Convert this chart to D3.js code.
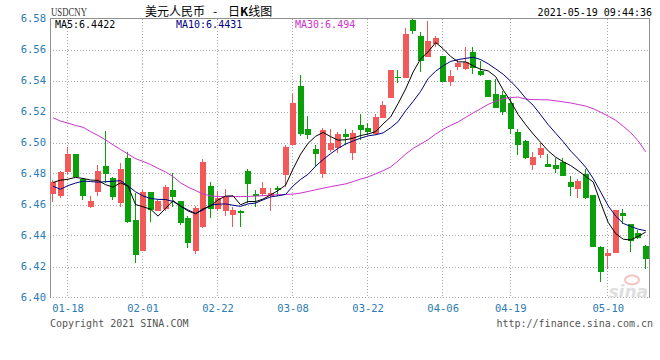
<!DOCTYPE html>
<html>
<head>
<meta charset="utf-8">
<script src="https://cdn.jsdelivr.net/npm/d3@7"></script>
<style>
body{margin:0;background:#fff}
svg{display:block}
text{font-family:"DejaVu Sans Mono",monospace}
</style>
</head>
<body>
<svg width="660" height="360"></svg>
<script>

// daily K data (USD/CNY, 80 sessions)
var opens = [6.4665,6.4658,6.4809,6.4923,6.4766,6.4585,6.4682,6.4847,6.4768,6.4611,
  6.4897,6.4497,6.4299,6.468,6.4557,6.457,6.4695,6.462,6.451,6.430,
  6.4458,6.472,6.457,6.4555,6.4533,6.4559,6.4819,6.4669,6.4669,6.4656,
  6.4705,6.4791,6.4987,6.5363,6.5086,6.4961,6.4794,6.4951,6.4966,6.5052,
  6.4935,6.5112,6.5095,6.5054,6.5161,6.529,6.5424,6.5419,6.5789,6.5686,
  6.5553,6.5634,6.5557,6.5391,6.5484,6.5477,6.5581,6.546,6.5402,6.531,
  6.5305,6.5258,6.5069,6.5011,6.4854,6.4918,6.486,6.4854,6.4875,6.4742,
  6.4703,6.4796,6.466,6.4329,6.4269,6.4286,6.4544,6.4473,6.4413,6.4333]
var highs = [6.4761,6.4815,6.4972,6.4925,6.4768,6.4654,6.4852,6.5077,6.4778,6.4869,
  6.494,6.4671,6.4692,6.468,6.4632,6.4725,6.4802,6.462,6.4525,6.459,
  6.4892,6.4742,6.4684,6.4699,6.4587,6.4566,6.4828,6.4695,6.4746,6.4705,
  6.472,6.4985,6.531,6.5434,6.5172,6.4986,6.5095,6.509,6.5069,6.509,
  6.508,6.5181,6.5123,6.5181,6.5267,6.5467,6.5467,6.574,6.5796,6.5714,
  6.5783,6.5688,6.5557,6.5467,6.5531,6.5617,6.5613,6.5525,6.5402,6.5409,
  6.5331,6.5284,6.5086,6.5015,6.494,6.4994,6.4925,6.4903,6.4897,6.4781,
  6.4763,6.4832,6.466,6.4333,6.4312,6.4563,6.457,6.4473,6.4434,6.434]
var lows = [6.4615,6.4642,6.4794,6.4775,6.4632,6.4576,6.4654,6.474,6.4628,6.4585,
  6.4482,6.4224,6.4299,6.4486,6.4557,6.456,6.4587,6.4468,6.432,6.428,
  6.4447,6.4512,6.4555,6.4529,6.4454,6.4458,6.4609,6.4587,6.4652,6.4555,
  6.4656,6.4716,6.4983,6.5043,6.5021,6.4843,6.4768,6.494,6.4935,6.4987,
  6.4886,6.5015,6.5047,6.5047,6.5155,6.529,6.5381,6.5413,6.5703,6.5456,
  6.555,6.5617,6.5391,6.5363,6.5467,6.5467,6.5445,6.543,6.5295,6.522,
  6.5176,6.5058,6.4918,6.4892,6.4824,6.4903,6.4839,6.4802,6.4781,6.4656,
  6.4645,6.4634,6.4327,6.4097,6.4187,6.4286,6.4473,6.4295,6.4376,6.4187]
var closes = [6.4746,6.4809,6.4929,6.4778,6.4658,6.4624,6.4819,6.4794,6.4649,6.483,
  6.4488,6.4273,6.468,6.4563,6.4622,6.4715,6.4647,6.448,6.435,6.458,
  6.4873,6.457,6.4641,6.4652,6.4566,6.4544,6.4731,6.4652,6.4705,6.4673,
  6.4695,6.497,6.5258,6.5058,6.5047,6.4925,6.508,6.4994,6.5058,6.5037,
  6.5064,6.508,6.5069,6.5166,6.5245,6.5467,6.5413,6.5703,6.572,6.5525,
  6.5654,6.5671,6.5391,6.5428,6.551,6.552,6.5482,6.5434,6.5295,6.5224,
  6.5198,6.509,6.4983,6.4897,6.4908,6.4963,6.4845,6.4828,6.4785,6.4716,
  6.4753,6.4639,6.4327,6.4166,6.4286,6.4563,6.4527,6.4366,6.4387,6.4247]

// moving averages as drawn
var ma5 = [6.4742,6.4757,6.4763,6.4775,6.4768,6.4758,6.4755,6.4728,6.4712,6.474,
  6.4718,6.46,6.4585,6.457,6.4525,6.4575,6.4625,6.459,6.4558,6.454,
  6.4572,6.459,6.463,6.4654,6.4656,6.4598,6.4619,6.4619,6.4635,6.4662,
  6.469,6.4725,6.483,6.4925,6.4995,6.504,6.5065,6.5038,6.5015,6.5018,
  6.5028,6.5045,6.5055,6.507,6.512,6.5165,6.5252,6.5345,6.5455,6.554,
  6.5585,6.5645,6.5605,6.5555,6.552,6.552,6.5495,6.5472,6.5462,6.5425,
  6.5338,6.5265,6.518,6.5115,6.5055,6.5,6.4946,6.4905,6.4876,6.4851,
  6.4817,6.4782,6.4745,6.461,6.4484,6.4412,6.4376,6.4371,6.4395,6.4422]
var ma10 = [6.4718,6.4698,6.4722,6.4738,6.4751,6.4748,6.4744,6.4747,6.475,6.4754,
  6.472,6.4682,6.4655,6.4639,6.4633,6.4632,6.462,6.459,6.4565,6.4542,
  6.4565,6.4596,6.4602,6.4604,6.4595,6.4588,6.4604,6.4609,6.463,6.4649,
  6.4656,6.4665,6.472,6.4762,6.4795,6.4847,6.489,6.4928,6.4962,6.499,
  6.501,6.5028,6.5043,6.505,6.5062,6.5095,6.5135,6.5205,6.5265,6.533,
  6.5413,6.546,6.5495,6.5523,6.5535,6.5543,6.555,6.5535,6.5508,6.5475,
  6.544,6.5395,6.5345,6.5285,6.524,6.5178,6.5115,6.506,6.5005,6.4945,
  6.4895,6.484,6.4768,6.468,6.4591,6.4525,6.4478,6.4458,6.4441,6.4431]
var ma30 = [6.516,6.5138,6.5125,6.511,6.5098,6.507,6.5045,6.5017,6.4985,6.4955,
  6.4925,6.4896,6.4878,6.4858,6.4833,6.481,6.478,6.474,6.4712,6.469,
  6.4668,6.4655,6.4652,6.4651,6.4651,6.4651,6.4652,6.4654,6.4657,6.466,
  6.4663,6.4665,6.4667,6.4674,6.4684,6.4695,6.4705,6.4715,6.4724,6.4733,
  6.4748,6.4764,6.4778,6.4798,6.4818,6.4842,6.4882,6.4925,6.4962,6.499,
  6.5019,6.5054,6.5086,6.511,6.5133,6.5162,6.5191,6.5218,6.5246,6.5266,
  6.5283,6.529,6.5293,6.528,6.5277,6.5276,6.5275,6.5269,6.5262,6.5255,
  6.5245,6.5235,6.5218,6.5195,6.517,6.5143,6.5105,6.5063,6.501,6.494]

var yTicks = [6.40,6.42,6.44,6.46,6.48,6.50,6.52,6.54,6.56,6.58]
var dateLabels = ["01-18","02-01","02-22","03-08","03-22","04-06","04-19","05-10"]
var dateIdx = [2,12,22,32,42,52,61,74]

var svg = d3.select("svg"),
    pL = 50, pR = 649, pT = 18.5, pB = 297.5,
    upColor = "#f25a5a", downColor = "#0aa00a", labColor = "#2b7bb4"

var x = d3.scaleBand().domain(d3.range(closes.length)).range([49.25, 649.5]),
    y = d3.scaleLinear().domain([6.40, 6.58]).range([pB, pT])

function cx(i){ return Math.round(x(i) + x.bandwidth() / 2) }

svg.append("defs").append("clipPath").attr("id", "plot")
  .append("rect").attr("x", pL).attr("y", pT).attr("width", pR - pL).attr("height", pB - pT)

// dotted grid
var grid = svg.append("g").attr("stroke", "#a8a8a8").attr("stroke-dasharray", "1,2").attr("shape-rendering", "crispEdges")
grid.selectAll(".h").data(yTicks.slice(1, -1)).enter().append("line")
  .attr("x1", pL).attr("x2", pR)
  .attr("y1", function(d){ return Math.round(y(d)) + 0.5 })
  .attr("y2", function(d){ return Math.round(y(d)) + 0.5 })
grid.selectAll(".v").data(dateIdx).enter().append("line")
  .attr("y1", pT).attr("y2", pB)
  .attr("x1", function(d){ return cx(d) - 0.5 })
  .attr("x2", function(d){ return cx(d) - 0.5 })
grid.append("line").attr("x1", pL).attr("x2", pR).attr("y1", pB).attr("y2", pB)

// frame
svg.append("path").attr("stroke", "#909090").attr("shape-rendering", "crispEdges").attr("fill", "none")
  .attr("d", "M" + (pL + 0.5) + "," + pB + "V" + pT + "H" + (pR + 0.5) + "V" + pB)

// watermark
var wm = svg.append("g").attr("clip-path", "url(#plot)")
wm.append("ellipse").attr("cx", 632).attr("cy", 280).attr("rx", 7).attr("ry", 4.5)
  .attr("fill", "none").attr("stroke", "#f4c4c4").attr("stroke-width", 2)
wm.append("text").attr("x", 648).attr("y", 298).attr("text-anchor", "end")
  .style("font-family", "DejaVu Sans").style("font-style", "italic").style("font-weight", "bold")
  .style("font-size", "17px").attr("fill", "#dedede").text("sina")

// candles
var candle = svg.append("g").attr("shape-rendering", "crispEdges")
  .selectAll("g").data(closes).enter().append("g")
  .attr("fill", function(d, i){ return d >= opens[i] ? upColor : downColor })
  .attr("stroke", function(d, i){ return d >= opens[i] ? upColor : downColor })

candle.append("line")
  .attr("x1", function(d, i){ return cx(i) - 0.5 })
  .attr("x2", function(d, i){ return cx(i) - 0.5 })
  .attr("y1", function(d, i){ return y(highs[i]) })
  .attr("y2", function(d, i){ return y(lows[i]) })

candle.append("rect")
  .attr("stroke", "none")
  .attr("x", function(d, i){ return cx(i) - 3 })
  .attr("width", 6)
  .attr("y", function(d, i){ return y(Math.max(d, opens[i])) })
  .attr("height", function(d, i){ return Math.max(1, Math.abs(y(d) - y(opens[i]))) })

// MA lines
var maLine = d3.line().x(function(d, i){ return x(i) + x.bandwidth() / 2 }).y(function(d){ return y(d) })
var mas = [[ma30, "#cc33cc", "MA30", 295], [ma10, "#000080", "MA10", 176], [ma5, "#000000", "MA5", 55]]
mas.forEach(function(m){
  svg.append("path").attr("d", maLine(m[0])).attr("fill", "none").attr("stroke", m[1]).attr("stroke-width", 1)
  svg.append("text").attr("x", m[3]).attr("y", 27.5).attr("fill", m[1]).style("font-size", "10px")
    .text(m[2] + ":" + m[0][m[0].length - 1])
})

// axes
svg.append("g").attr("transform", "translate(" + pL + ",0)")
  .call(d3.axisLeft(y).tickValues(yTicks).tickSize(0).tickPadding(4).tickFormat(d3.format(".2f")))
svg.append("g").attr("transform", "translate(0," + pB + ")")
  .call(d3.axisBottom(x).tickValues(dateIdx).tickSize(0).tickPadding(7)
    .tickFormat(function(d){ return dateLabels[dateIdx.indexOf(d)] }))
svg.selectAll(".domain").remove()
svg.selectAll(".tick text").attr("fill", labColor).style("font-family", "DejaVu Sans Mono").style("font-size", "10.5px")

// header / footer
svg.append("text").attr("x", 51).attr("y", 15.5).attr("fill", "#333")
  .attr("textLength", 36).attr("lengthAdjust", "spacingAndGlyphs")
  .style("font-family", "Liberation Serif").style("font-size", "12px").text("USDCNY")
var title = svg.append("text").attr("y", 16).attr("fill", "#000")
  .style("font-family", "Noto Sans CJK SC").style("font-size", "12px")
title.append("tspan").attr("x", 145).text("美元人民币")
title.append("tspan").attr("x", 213).text("-")
title.append("tspan").attr("x", 228).text("日")
title.append("tspan").style("font-weight", "bold").text("K")
title.append("tspan").text("线图")
svg.append("text").attr("x", 652).attr("y", 15.5).attr("text-anchor", "end").attr("fill", "#000")
  .style("font-size", "10px").text("2021-05-19 09:44:36")
svg.append("text").attr("x", 50).attr("y", 327).attr("fill", "#555")
  .style("font-size", "10px").text("Copyright 2021 SINA.COM")
svg.append("text").attr("x", 653).attr("y", 327).attr("text-anchor", "end").attr("fill", "#555")
  .style("font-size", "10px").text("http://finance.sina.com.cn")

</script>
</body>
</html>
